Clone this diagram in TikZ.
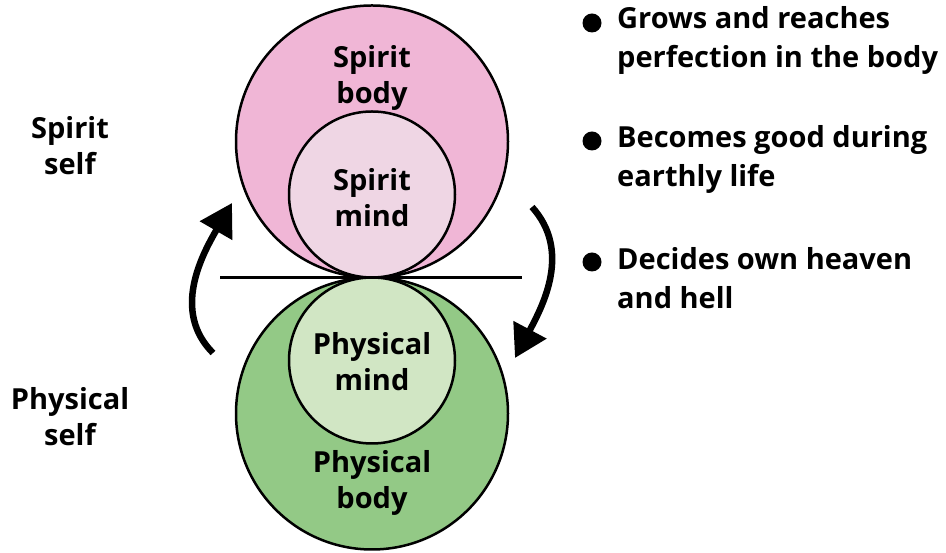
\documentclass[tikz,border=0pt]{standalone}
\usepackage{fontspec}
\setmainfont{Open Sans}
\usetikzlibrary{arrows.meta}
\definecolor{pinkout}{RGB}{240,182,214}
\definecolor{pinkin}{RGB}{239,214,228}
\definecolor{greenout}{RGB}{147,201,134}
\definecolor{greenin}{RGB}{209,230,196}
\tikzset{
  ring/.style={circle, draw=black, line width=2.5pt, inner sep=0pt},
  lbl/.style={align=center, font=\bfseries\fontsize{29}{36}\selectfont, inner sep=0pt},
  blt/.style={align=left, anchor=west, font=\bfseries\fontsize{29}{39}\selectfont, inner sep=0pt},
  dot/.style={circle, fill=black, minimum size=19pt, inner sep=0pt},
  cyc/.style={line width=6.5pt, -{Triangle[length=32pt,width=36pt]}}
}
\begin{document}
\begin{tikzpicture}[x=1pt,y=1pt]
\useasboundingbox (0,0) rectangle (946,553);
% circles
\node[ring, fill=pinkout, minimum size=272pt] (sbody) at (372,411.5) {};
\node[ring, fill=pinkin, minimum size=166pt] (smind) at (372,358.5) {};
\node[ring, fill=greenout, minimum size=272pt] (pbody) at (372,139.5) {};
\node[ring, fill=greenin, minimum size=166pt] (pmind) at (372,192.5) {};
% tangent line
\coordinate (la) at (220,275.5);
\coordinate (lb) at (522,275.5);
\draw[line width=3pt] (la) -- (lb);
% labels in circles
\node[lbl] (tsb) at (372,475) {Spirit\\body};
\node[lbl] (tsm) at (372,355) {Spirit\\mind};
\node[lbl] (tpm) at (372,191) {Physical\\mind};
\node[lbl] (tpb) at (372,70) {Physical\\body};
% side labels
\node[lbl] (tss) at (70,407) {Spirit\\self};
\node[lbl] (tps) at (70,136) {Physical\\self};
% cycle arrows
\coordinate (a1s) at (213,200);
\coordinate (a1e) at (232,350);
\coordinate (a2s) at (532,346);
\coordinate (a2e) at (515,195);
\draw[cyc] (a1s) to[out=135, in=240] (a1e);
\draw[cyc] (a2s) to[out=-48, in=62] (a2e);
% bullets
\node[dot] (d1) at (592,530) {};
\node[dot] (d2) at (592,412) {};
\node[dot] (d3) at (592,291) {};
\node[blt] (b1) at (617,513) {Grows and reaches\\perfection in the body};
\node[blt] (b2) at (617,394) {Becomes good during\\earthly life};
\node[blt] (b3) at (617,275) {Decides own heaven\\and hell};
\end{tikzpicture}
\end{document}
